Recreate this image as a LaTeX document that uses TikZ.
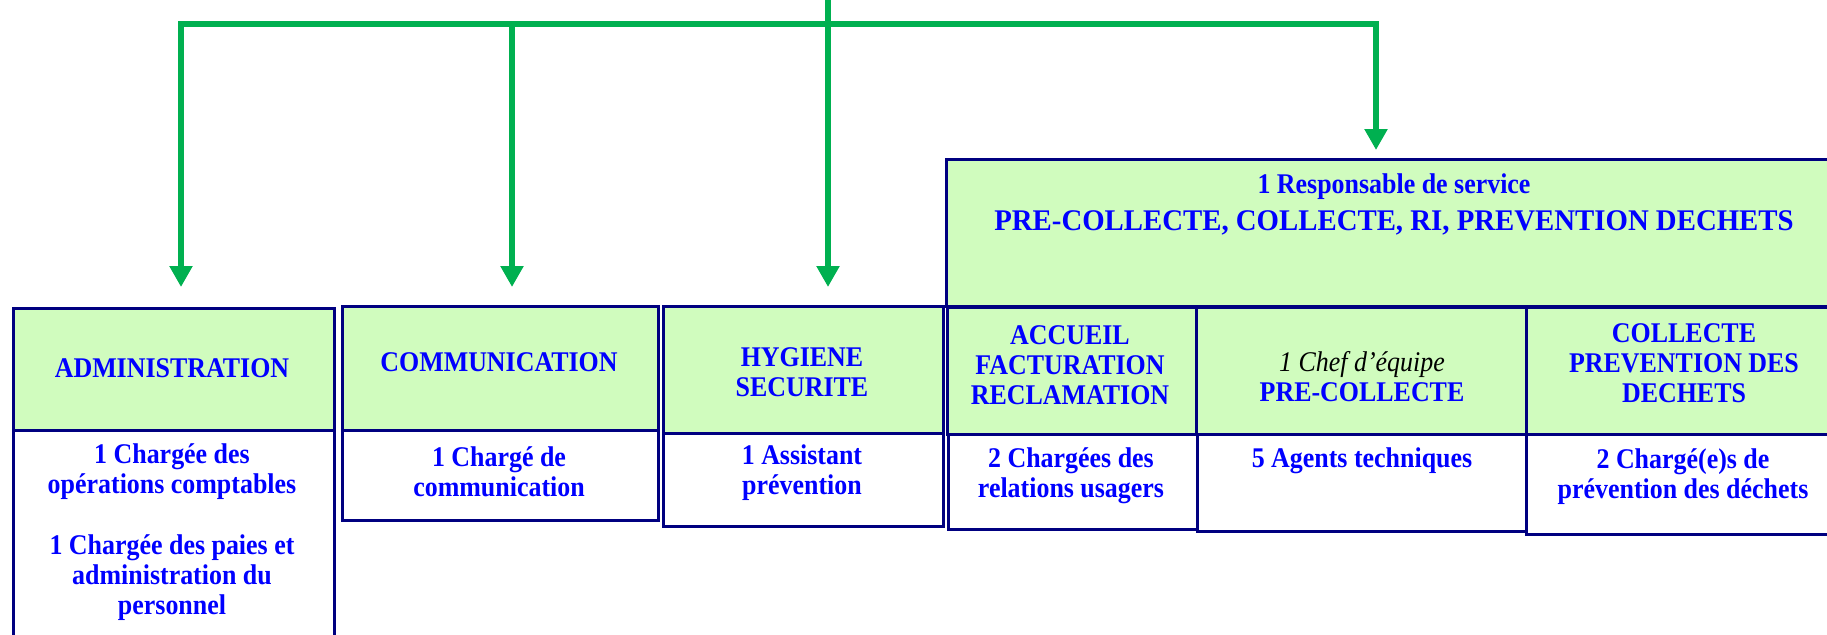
\documentclass[tikz,border=0pt]{standalone}
\usepackage{fontspec}
\setmainfont{Liberation Serif}
\newfontfamily\condfont{Liberation Serif}[FakeStretch=0.91]
\newfontfamily\titlefont{Liberation Serif}[FakeStretch=0.96]
\usetikzlibrary{arrows.meta}
\definecolor{arrowgreen}{RGB}{0,176,80}
\definecolor{navyline}{RGB}{0,0,128}
\definecolor{hdrgreen}{RGB}{208,252,190}
\definecolor{txtblue}{RGB}{0,0,255}
\begin{document}
\begin{tikzpicture}[x=1pt,y=-1pt,
  hdr/.style={draw=navyline, line width=2.5pt, fill=hdrgreen, anchor=north west, inner sep=0pt},
  bdy/.style={draw=navyline, line width=2.5pt, fill=white, anchor=north west, inner sep=0pt},
  txt/.style={text=txtblue, font=\condfont\bfseries\fontsize{28.5}{30}\selectfont, align=center, inner sep=0pt},
  bigtxt/.style={text=txtblue, font=\titlefont\bfseries\fontsize{30}{33}\selectfont, align=center, inner sep=0pt},
  conn/.style={draw=arrowgreen, line width=5.5pt},
  arr/.style={conn, -{Triangle[width=22pt,length=21pt]}}]
\path[use as bounding box] (0,0) rectangle (1827,634);
\clip (0,0) rectangle (1827,634);

% service box (top right)
\node[hdr, minimum width=1000pt, minimum height=147pt] (service) at (945,158) {};

% bodies
\node[bdy, minimum width=321pt, minimum height=260pt] (adminB) at (12,429) {};
\node[bdy, minimum width=316pt, minimum height=90pt] (commB) at (341,429) {};
\node[bdy, minimum width=280pt, minimum height=93pt] (hygB) at (662,432) {};
\node[bdy, minimum width=249pt, minimum height=95pt] (accB) at (947,433) {};
\node[bdy, minimum width=330pt, minimum height=97pt] (preB) at (1196,433) {};
\node[bdy, minimum width=400pt, minimum height=100pt] (colB) at (1525,433) {};

% headers
\node[hdr, minimum width=321pt, minimum height=122pt] (adminH) at (12,307) {};
\node[hdr, minimum width=316pt, minimum height=124pt] (commH) at (341,305) {};
\node[hdr, minimum width=280pt, minimum height=127pt] (hygH) at (662,305) {};
\node[hdr, minimum width=249pt, minimum height=127pt] (accH) at (946,306) {};
\node[hdr, minimum width=330pt, minimum height=127pt] (preH) at (1195,306) {};
\node[hdr, minimum width=400pt, minimum height=127pt] (colH) at (1525,306) {};

% texts
\node[txt] (adminT) at (172,368) {ADMINISTRATION};
\node[txt] (adminP1) at (172,472) {1 Chargée des\\opérations comptables};
\node[txt] (adminP2) at (172,578) {1 Chargée des paies et\\administration du\\personnel};
\node[txt] (commT) at (499,362) {COMMUNICATION};
\node[txt] (commP) at (499,472) {1 Chargé de\\communication};
\node[txt] (hygT) at (802,372) {HYGIENE\\SECURITE};
\node[txt] (hygP) at (802,473) {1 Assistant\\prévention};
\node[txt] (respT) at (1394,187) {1 Responsable de service};
\node[bigtxt] (serviceT) at (1394,223) {PRE-COLLECTE, COLLECTE, RI, PREVENTION DECHETS};
\node[txt] (accT) at (1070,365) {ACCUEIL\\FACTURATION\\RECLAMATION};
\node[txt] (accP) at (1071,476) {2 Chargées des\\relations usagers};
\node[txt] (preT) at (1362,377) {{\mdseries\itshape\color{black}1 Chef d’équipe}\\PRE-COLLECTE};
\node[txt] (preP) at (1362,461) {5 Agents techniques};
\node[txt] (colT) at (1684,363) {COLLECTE\\PREVENTION DES\\DECHETS};
\node[txt] (colP) at (1683,477) {2 Chargé(e)s de\\prévention des déchets};

% connectors
\coordinate (top) at (828,0);
\coordinate (j) at (828,24);
\coordinate (barB) at (512,24);
\coordinate (tipA) at (181,287);
\coordinate (tipB) at (512,287);
\coordinate (tipC) at (828,287);
\coordinate (tipD) at (1376,150);
\draw[conn] (top) -- (j);
\draw[arr] (j) -| (tipA);
\draw[arr] (j) -| (tipD);
\draw[arr] (barB) -- (tipB);
\draw[arr] (j) -- (tipC);
\end{tikzpicture}
\end{document}
